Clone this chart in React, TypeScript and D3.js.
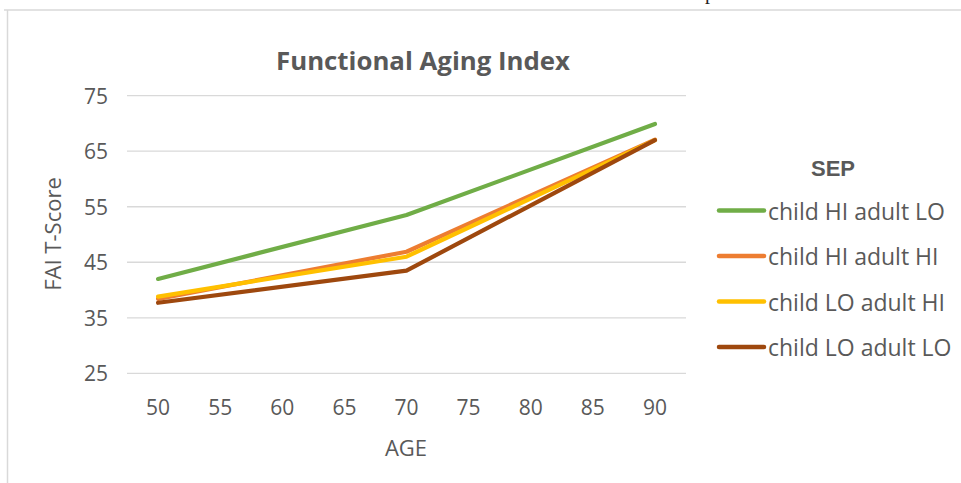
import React from "react";
import * as d3 from "d3";

const ages = [50, 55, 60, 65, 70, 75, 80, 85, 90];
const yTicks = [25, 35, 45, 55, 65, 75];
const seriesNames = ["child HI adult LO", "child HI adult HI", "child LO adult HI", "child LO adult LO"];
const seriesColors = ["#70AD47", "#ED7D31", "#FFC000", "#9E480E"];
const childHiAdultLo: (number | null)[] = [42.0, null, null, null, 53.5, null, null, null, 69.9];
const childHiAdultHi: (number | null)[] = [38.4, null, null, null, 46.9, null, null, null, 67.1];
const childLoAdultHi: (number | null)[] = [38.8, null, null, null, 46.0, null, null, null, 67.0];
const childLoAdultLo: (number | null)[] = [37.7, null, null, null, 43.5, null, null, null, 67.0];
const seriesValues = [childHiAdultLo, childHiAdultHi, childLoAdultHi, childLoAdultLo];

const W = 961;
const H = 483;
const FONT = "'Open Sans', Lato, sans-serif";
const TEXT = "#595959";

export default function App() {
  const x = d3.scaleBand<number>().domain(ages).range([127, 686]).padding(0);
  const y = d3.scaleLinear().domain([25, 75]).range([373.3, 95.7]);
  const cx = (a: number) => (x(a) as number) + x.bandwidth() / 2;

  const line = d3
    .line<{ a: number; v: number }>()
    .x((d) => cx(d.a))
    .y((d) => y(d.v));

  return (
    <svg
      width={W}
      height={H}
      style={{ position: "absolute", left: 0, top: 0, background: "#fff" }}
      fontFamily={FONT}
    >
      <rect x={0} y={0} width={W} height={H} fill="#fff" />
      {/* cut-off glyph from document above */}
      <text x={705} y={-1} fontSize={20} fill="#222" fontFamily="'Liberation Serif', serif">p</text>
      {/* chart border */}
      <line x1={4} x2={W} y1={10} y2={10} stroke="#d9d9d9" strokeWidth={1.5} />
      <line x1={7.5} x2={7.5} y1={10} y2={H} stroke="#d9d9d9" strokeWidth={1.5} />

      <text x={423} y={60} textAnchor="middle" dominantBaseline="central" fontSize={25.8} fontWeight="bold" fill={TEXT}>
        Functional Aging Index
      </text>

      {yTicks.map((t) => (
        <g key={t}>
          <line x1={127} x2={686} y1={y(t)} y2={y(t)} stroke="#d9d9d9" strokeWidth={1.3} />
          <text x={108} y={y(t)} textAnchor="end" dominantBaseline="central" fontSize={21} fill={TEXT}>
            {t}
          </text>
        </g>
      ))}

      {ages.map((a) => (
        <text key={a} x={cx(a)} y={407} textAnchor="middle" dominantBaseline="central" fontSize={21} fill={TEXT}>
          {a}
        </text>
      ))}

      <text x={406} y={447} textAnchor="middle" dominantBaseline="central" fontSize={22} fill={TEXT}>
        AGE
      </text>
      <text
        transform={`translate(52,234) rotate(-90)`}
        textAnchor="middle"
        dominantBaseline="central"
        fontSize={22}
        fill={TEXT}
      >
        FAI T-Score
      </text>

      {seriesValues.map((vals, i) => {
        const pts = ages
          .map((a, j) => ({ a, v: vals[j] }))
          .filter((d) => d.v !== null) as { a: number; v: number }[];
        return (
          <path
            key={i}
            d={line(pts) || ""}
            fill="none"
            stroke={seriesColors[i]}
            strokeWidth={4.2}
            strokeLinecap="round"
            strokeLinejoin="round"
          />
        );
      })}

      <text
        x={833}
        y={168}
        textAnchor="middle"
        dominantBaseline="central"
        fontSize={22}
        fontWeight="bold"
        fill={TEXT}
        fontFamily="'Liberation Sans', Arial, sans-serif"
      >
        SEP
      </text>
      {seriesNames.map((n, i) => {
        const ly = 210.5 + i * 45.5;
        return (
          <g key={n}>
            <line x1={719} x2={764} y1={ly} y2={ly} stroke={seriesColors[i]} strokeWidth={4.5} strokeLinecap="round" />
            <text x={768} y={ly} dominantBaseline="central" fontSize={23} fill={TEXT}>
              {n}
            </text>
          </g>
        );
      })}
    </svg>
  );
}
